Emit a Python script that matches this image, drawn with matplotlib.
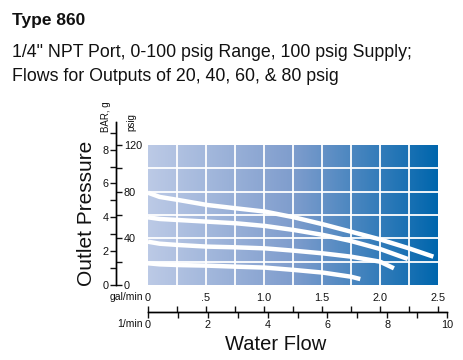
import numpy as np
import matplotlib
matplotlib.use('Agg')
import matplotlib.pyplot as plt
from matplotlib.colors import LinearSegmentedColormap
from matplotlib.ticker import FixedLocator, FixedFormatter, MultipleLocator, NullFormatter

plt.rcParams['font.family'] = ['Liberation Sans', 'DejaVu Sans']

# ---------------- data ----------------
title = "Type 860"
subtitle_lines = ['1/4" NPT Port, 0-100 psig Range, 100 psig Supply;',
                  'Flows for Outputs of 20, 40, 60, & 80 psig']

flow_80 = [0.0, 0.1, 0.26, 0.51, 0.76, 1.01, 1.26, 1.51, 1.75, 2.0, 2.25, 2.46]
psig_80 = [79.1, 75.5, 72.9, 68.6, 65.7, 62.9, 58.0, 52.0, 45.7, 39.1, 31.4, 24.3]
flow_60 = [0.0, 0.1, 0.26, 0.51, 0.76, 1.01, 1.26, 1.51, 1.75, 2.0, 2.24]
psig_60 = [58.0, 56.6, 55.7, 54.3, 52.9, 50.6, 47.1, 42.9, 37.7, 30.9, 22.3]
flow_40 = [0.0, 0.1, 0.26, 0.51, 0.76, 1.01, 1.26, 1.51, 1.75, 2.0, 2.12]
psig_40 = [37.1, 35.4, 34.3, 32.9, 32.3, 31.4, 29.4, 27.1, 24.3, 20.0, 14.3]
flow_20 = [0.0, 0.1, 0.26, 0.51, 0.76, 1.01, 1.26, 1.51, 1.75, 1.83]
psig_20 = [18.6, 17.7, 17.1, 16.6, 15.7, 14.9, 12.9, 10.6, 7.1, 5.1]

gpm_ticks = [0, 0.5, 1.0, 1.5, 2.0, 2.5]
gpm_labels = ['0', '.5', '1.0', '1.5', '2.0', '2.5']
lpm_ticks = [0, 2, 4, 6, 8, 10]
lpm_labels = ['0', '2', '4', '6', '8', '10']
psig_ticks = [0, 40, 80, 120]
psig_labels = ['0', '40', '80', '120']
bar_ticks = [0, 2, 4, 6, 8]
bar_labels = ['0', '2', '4', '6', '8']
PSI_PER_BAR = 14.5038

# ---------------- layout helpers ----------------
W, H = 463, 360
def fx(x): return x / W
def fy(y): return 1 - y / H

fig = plt.figure(figsize=(W / 100, H / 100), dpi=100)
fig.patch.set_facecolor('white')

txtc = '#111111'
fig.text(fx(12), fy(25), title, fontsize=12.5, fontweight='bold', color=txtc, va='baseline')
fig.text(fx(12), fy(57), subtitle_lines[0], fontsize=12.8, color=txtc, va='baseline')
fig.text(fx(12), fy(81), subtitle_lines[1], fontsize=12.8, color=txtc, va='baseline')

# ---------------- main plot ----------------
ax = fig.add_axes([fx(148), fy(285), 290 / W, 140 / H])
cmap = LinearSegmentedColormap.from_list('g', [(0, '#bccae6'), (0.5, '#7f9dcd'), (1.0, '#0066ad')])
ax.imshow(np.linspace(0, 1, 256).reshape(1, -1), extent=[0, 2.5, 0, 120],
          aspect='auto', cmap=cmap, zorder=0, interpolation='bilinear')
ax.set_xlim(0, 2.5)
ax.set_ylim(0, 120)
ax.set_xticks(np.arange(0.25, 2.5, 0.25))
ax.set_yticks(np.arange(20, 120, 20))
ax.tick_params(length=0, labelbottom=False, labelleft=False)
ax.grid(True, color='white', lw=1.3)
for s in ax.spines.values():
    s.set_visible(False)
for fl, ps in [(flow_80, psig_80), (flow_60, psig_60), (flow_40, psig_40), (flow_20, psig_20)]:
    ax.plot(fl, ps, color='white', lw=3.2, solid_capstyle='butt', solid_joinstyle='round', zorder=3)

# ---------------- left axis: psig (right ticks) and BAR (left ticks) ----------------
ytop = 163 * 120 / 140
axP = fig.add_axes([fx(116), fy(285), 0.0005, 163 / H])
axP.set_ylim(0, ytop)
axP.patch.set_visible(False)
for k in ['top', 'bottom', 'left']:
    axP.spines[k].set_visible(False)
axP.spines['right'].set_linewidth(1.0)
axP.xaxis.set_visible(False)
axP.yaxis.tick_right()
axP.yaxis.set_major_locator(FixedLocator(psig_ticks))
axP.yaxis.set_major_formatter(FixedFormatter(psig_labels))
axP.yaxis.set_minor_locator(MultipleLocator(20))
axP.tick_params(axis='y', which='both', direction='out', length=4.5, width=1.0,
                labelsize=7.8, pad=1, colors=txtc)

axB = fig.add_axes([fx(116), fy(285), 0.0005, 163 / H])
axB.set_ylim(0, ytop / PSI_PER_BAR)
axB.patch.set_visible(False)
for k in ['top', 'bottom', 'right']:
    axB.spines[k].set_visible(False)
axB.spines['left'].set_linewidth(1.0)
axB.xaxis.set_visible(False)
axB.yaxis.set_major_locator(FixedLocator(bar_ticks))
axB.yaxis.set_major_formatter(FixedFormatter(bar_labels))
axB.yaxis.set_minor_locator(MultipleLocator(1))
axB.tick_params(axis='y', which='both', direction='out', length=4.5, width=1.0,
                labelsize=7.8, pad=1, colors=txtc)

fig.text(fx(106), fy(132), 'BAR, g', rotation=90, fontsize=7, ha='center', va='bottom', color=txtc)
fig.text(fx(131), fy(131), 'psig', rotation=90, fontsize=7, ha='center', va='bottom', color=txtc)
fig.text(fx(87), fy(213), 'Outlet Pressure', rotation=90, fontsize=15, ha='center', va='center', color=txtc)

# ---------------- bottom axis: gal/min (up) and 1/min (down) ----------------
xw = (447 - 148)
axG = fig.add_axes([fx(148), fy(312), xw / W, 0.0001])
axG.set_xlim(0, xw / 116)
axG.patch.set_visible(False)
for k in ['bottom', 'left', 'right']:
    axG.spines[k].set_visible(False)
axG.spines['top'].set_linewidth(1.0)
axG.yaxis.set_visible(False)
axG.xaxis.tick_top()
axG.xaxis.set_major_locator(FixedLocator(gpm_ticks))
axG.xaxis.set_major_formatter(FixedFormatter(gpm_labels))
axG.xaxis.set_minor_locator(MultipleLocator(0.25))
axG.tick_params(axis='x', which='both', direction='out', length=4.5, width=1.0,
                labelsize=7.8, pad=2, colors=txtc)

axL = fig.add_axes([fx(148), fy(312), xw / W, 0.0001])
axL.set_xlim(0, 10)
axL.patch.set_visible(False)
for k in ['top', 'left', 'right']:
    axL.spines[k].set_visible(False)
axL.spines['bottom'].set_linewidth(1.0)
axL.yaxis.set_visible(False)
axL.xaxis.set_major_locator(FixedLocator(lpm_ticks))
axL.xaxis.set_major_formatter(FixedFormatter(lpm_labels))
axL.xaxis.set_minor_locator(MultipleLocator(1))
axL.xaxis.set_minor_formatter(NullFormatter())
axL.tick_params(axis='x', which='both', direction='out', length=4.5, width=1.0,
                labelsize=7.8, pad=1.5, colors=txtc)

fig.text(fx(143), fy(297), 'gal/min', fontsize=7.5, ha='right', va='center', color=txtc)
fig.text(fx(143), fy(324), '1/min', fontsize=7.5, ha='right', va='center', color=txtc)
fig.text(fx(276), fy(350), 'Water Flow', fontsize=14.5, ha='center', va='baseline', color=txtc)

fig.savefig('out.png', dpi=100, facecolor='white')
